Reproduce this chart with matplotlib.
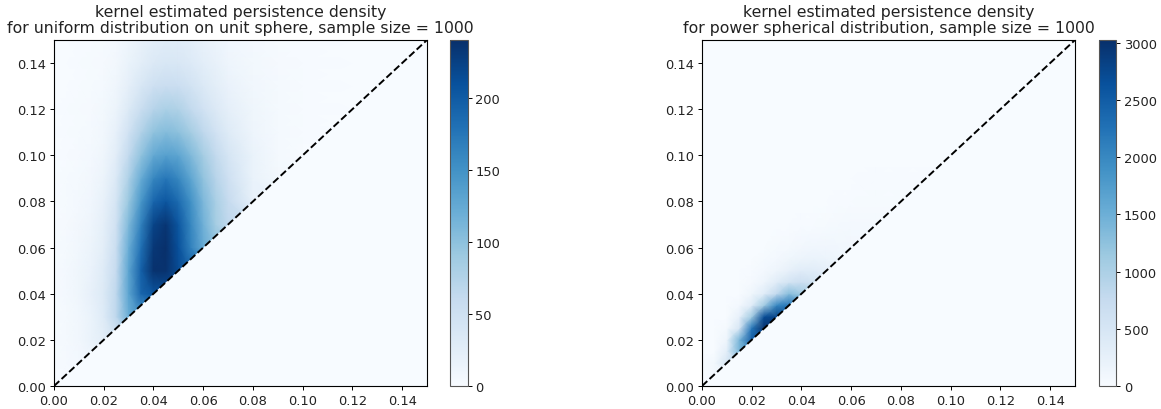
import numpy as np
import matplotlib
matplotlib.use('Agg')
import matplotlib.pyplot as plt
from matplotlib.patches import Polygon

# grid of the density values (birth across, death up)
x_uniform = [0, .005, .01, .015, .02, .025, .03, .035, .04, .045, .05, .055, .06, .065, .07, .08, .09, .10, .12, .15]
y_uniform = [0, .01, .02, .03, .04, .05, .06, .07, .08, .09, .10, .11, .12, .13, .14, .15]
z_uniform = [
    [0, 1, 2, 3, 3, 3, 3, 3, 3, 3, 3, 3, 3, 3, 3, 3, 3, 3, 3, 3],
    [1, 3, 5, 7, 7, 7, 7, 7, 7, 7, 7, 7, 7, 7, 7, 7, 7, 7, 7, 7],
    [1, 4, 8, 15, 25, 40, 40, 40, 40, 40, 40, 40, 40, 40, 40, 40, 40, 40, 40, 40],
    [1, 4, 8, 15, 30, 65, 120, 140, 140, 140, 140, 140, 140, 140, 140, 140, 140, 140, 140, 140],
    [1, 5, 10, 20, 32, 65, 130, 190, 205, 210, 210, 210, 210, 210, 210, 210, 210, 210, 210, 210],
    [1, 5, 10, 16, 30, 60, 130, 195, 238, 238, 215, 195, 195, 195, 195, 195, 195, 195, 195, 195],
    [1, 4, 8, 14, 25, 55, 120, 180, 232, 240, 210, 165, 125, 100, 100, 100, 100, 100, 100, 100],
    [1, 3, 7, 12, 22, 48, 108, 165, 222, 235, 205, 160, 118, 85, 65, 65, 65, 65, 65, 65],
    [0, 2, 5, 9, 18, 42, 92, 145, 190, 205, 185, 150, 110, 82, 60, 20, 20, 20, 20, 20],
    [0, 2, 4, 7, 14, 34, 78, 122, 160, 175, 160, 130, 98, 72, 50, 15, 6, 6, 6, 6],
    [0, 1, 3, 5, 10, 26, 62, 98, 125, 135, 130, 108, 85, 62, 42, 15, 4, 0, 0, 0],
    [0, 1, 2, 4, 8, 20, 46, 75, 98, 105, 100, 85, 65, 46, 30, 12, 4, 1, 0, 0],
    [0, 1, 2, 3, 6, 14, 32, 55, 72, 80, 76, 62, 46, 33, 22, 10, 4, 1, 0, 0],
    [0, 0, 1, 2, 4, 10, 22, 38, 50, 56, 54, 45, 34, 25, 16, 8, 4, 1, 0, 0],
    [0, 0, 1, 2, 3, 7, 15, 25, 33, 38, 37, 31, 24, 18, 12, 6, 3, 1, 0, 0],
    [0, 0, 1, 1, 2, 5, 11, 18, 24, 28, 28, 24, 18, 14, 9, 5, 2, 1, 0, 0],
]

x_power = [0, .005, .01, .015, .02, .025, .03, .035, .04, .045, .05, .055, .06, .07, .08, .09, .10, .15]
y_power = [0, .005, .01, .015, .02, .025, .03, .035, .04, .045, .05, .055, .06, .07, .08, .09, .10, .15]
z_power = [
    [0, 0, 0, 0, 0, 0, 0, 0, 0, 0, 0, 0, 0, 0, 0, 0, 0, 0],
    [0, 60, 60, 60, 60, 60, 60, 60, 60, 60, 60, 60, 60, 60, 60, 60, 60, 60],
    [0, 80, 500, 500, 500, 500, 500, 500, 500, 500, 500, 500, 500, 500, 500, 500, 500, 500],
    [0, 10, 300, 1400, 1800, 1800, 1800, 1800, 1800, 1800, 1800, 1800, 1800, 1800, 1800, 1800, 1800, 1800],
    [0, 0, 150, 1400, 2500, 2600, 2600, 2600, 2600, 2600, 2600, 2600, 2600, 2600, 2600, 2600, 2600, 2600],
    [0, 0, 50, 500, 2200, 3000, 3000, 3000, 3000, 3000, 3000, 3000, 3000, 3000, 3000, 3000, 3000, 3000],
    [0, 0, 10, 250, 1100, 2700, 2800, 2800, 2800, 2800, 2800, 2800, 2800, 2800, 2800, 2800, 2800, 2800],
    [0, 0, 0, 60, 350, 1100, 2000, 2200, 2000, 2000, 2000, 2000, 2000, 2000, 2000, 2000, 2000, 2000],
    [0, 0, 0, 10, 120, 350, 800, 1300, 1100, 1100, 1100, 1100, 1100, 1100, 1100, 1100, 1100, 1100],
    [0, 0, 0, 0, 40, 150, 350, 550, 650, 550, 500, 500, 500, 500, 500, 500, 500, 500],
    [0, 0, 0, 0, 15, 60, 130, 250, 350, 350, 280, 280, 280, 280, 280, 280, 280, 280],
    [0, 0, 0, 0, 5, 25, 65, 120, 170, 190, 170, 150, 150, 150, 150, 150, 150, 150],
    [0, 0, 0, 0, 2, 8, 25, 55, 90, 115, 115, 100, 90, 90, 90, 90, 90, 90],
    [0, 0, 0, 0, 0, 0, 3, 5, 12, 22, 35, 50, 60, 50, 50, 50, 50, 50],
    [0, 0, 0, 0, 0, 0, 0, 0, 2, 4, 8, 14, 22, 35, 30, 30, 30, 30],
    [0, 0, 0, 0, 0, 0, 0, 0, 0, 0, 2, 3, 5, 12, 16, 12, 12, 12],
    [0, 0, 0, 0, 0, 0, 0, 0, 0, 0, 0, 0, 1, 2, 4, 5, 3, 3],
    [0, 0, 0, 0, 0, 0, 0, 0, 0, 0, 0, 0, 0, 0, 0, 0, 0, 0],
]

titles = ['kernel estimated persistence density\nfor uniform distribution on unit sphere, sample size = 1000',
          'kernel estimated persistence density\nfor power spherical distribution, sample size = 1000']
ticks = [0, .02, .04, .06, .08, .10, .12, .14]
W, H = 1161, 410


def panel(left, cleft, x, y, z, vmax, title, cticks):
    ax = plt.gcf().add_axes([left / W, 1 - 387 / H, 373 / W, 346 / H])
    cax = plt.gcf().add_axes([cleft / W, 1 - 387 / H, 17.5 / W, 346 / H])
    ax.set_facecolor(plt.cm.Blues(0))
    mesh = ax.pcolormesh(x, y, np.array(z), cmap='Blues', vmin=0, vmax=vmax, shading='gouraud')
    # the density only exists above the diagonal
    mesh.set_clip_path(Polygon([(0, 0), (.15, .15), (0, .15)], transform=ax.transData))
    ax.plot([0, .15], [0, .15], 'k--', lw=1.4)
    ax.set_xlim(0, .15)
    ax.set_ylim(0, .15)
    ax.set_xticks(ticks)
    ax.set_yticks(ticks)
    ax.xaxis.set_major_formatter('{x:.2f}')
    ax.yaxis.set_major_formatter('{x:.2f}')
    ax.tick_params(labelsize=9.4, length=3, pad=2.5, width=0.7, labelcolor='#222222')
    ax.set_title(title, fontsize=11.3, pad=5.5, linespacing=1.08, color='#222222')
    cb = plt.colorbar(mesh, cax=cax)
    cb.set_ticks(cticks)
    cb.ax.tick_params(labelsize=9.4, length=3, pad=2.5, width=0.7, labelcolor='#222222')
    cb.outline.set_edgecolor('#555555')


plt.figure(figsize=(W / 100, H / 100), dpi=100)
panel(54, 450, x_uniform, y_uniform, z_uniform, 240, titles[0], [0, 50, 100, 150, 200])
panel(702, 1098.5, x_power, y_power, z_power, 3025, titles[1], [0, 500, 1000, 1500, 2000, 2500, 3000])
plt.savefig('out.png', dpi=100)
